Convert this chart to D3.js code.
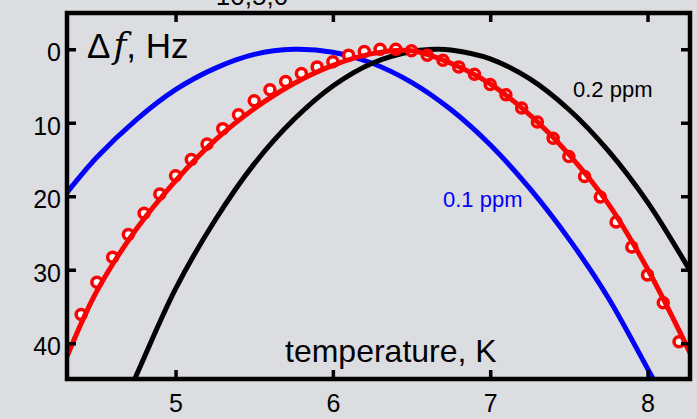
<!DOCTYPE html>
<html>
<head>
<meta charset="utf-8">
<script src="https://cdn.jsdelivr.net/npm/d3@7"></script>
<style>
body { margin: 0; background: #dcdde0; }
svg { display: block; font-family: "Liberation Sans", Arial, sans-serif; }
.tick line { stroke: #000; stroke-width: 3.5; }
.tick text { font-size: 25px; fill: #000; }
</style>
</head>
<body>
<script>
var width = 697,
    height = 419;
var margin = {top: 13, right: 7, bottom: 40, left: 67};

// measured points (open circles)
var tempData = [4.4, 4.5, 4.6, 4.7, 4.8, 4.9, 5.0, 5.1, 5.2, 5.3, 5.4, 5.5, 5.6, 5.7, 5.8, 5.9, 6.0,
  6.1, 6.2, 6.3, 6.4, 6.5, 6.6, 6.7, 6.8, 6.9, 7.0, 7.1, 7.2, 7.3, 7.4, 7.5, 7.6, 7.7, 7.8,
  7.9, 8.0, 8.1, 8.2];
var dfData = [36.1, 31.7, 28.3, 25.2, 22.3, 19.7, 17.2, 15.0, 12.9, 10.8, 8.9, 7.0, 5.5, 4.4, 3.3,
  2.4, 1.7, 0.8, 0.3, 0.0, 0.0, 0.2, 0.8, 1.5, 2.4, 3.4, 4.8, 6.2, 8.0, 9.9, 12.1, 14.6, 17.3,
  20.1, 23.5, 26.9, 30.7, 34.5, 39.8];

// red fit curve
var fitT = [4.31, 4.5, 4.75, 5.0, 5.25, 5.5, 5.75, 6.0, 6.25, 6.5, 6.75, 7.0, 7.25, 7.5, 7.75, 8.0, 8.27];
var fitDf = [41.8, 32.9, 24.5, 17.9, 12.4, 8.1, 4.7, 2.2, 0.6, 0.2, 1.9, 4.7, 8.9, 14.3, 21.0, 29.9, 41.3];

// 0.1 ppm curve (blue)
var lowT = [4.31, 4.5, 4.75, 5.0, 5.25, 5.5, 5.75, 6.0, 6.25, 6.5, 6.75, 7.0, 7.25, 7.5, 7.75, 8.04, 8.12];
var lowDf = [19.5, 14.7, 9.6, 5.5, 2.6, 0.7, 0.0, 0.4, 1.9, 4.5, 8.2, 13.0, 18.9, 25.8, 33.8, 45.0, 48.0];

// 0.2 ppm curve (black)
var highT = [4.5, 4.75, 5.0, 5.25, 5.5, 5.75, 6.0, 6.25, 6.5, 6.66, 6.75, 7.0, 7.25, 7.5, 7.75, 8.0, 8.27, 8.35];
var highDf = [56.5, 44.4, 32.6, 23.3, 15.6, 9.6, 5.0, 1.9, 0.3, 0.0, 0.1, 1.3, 4.0, 8.2, 13.8, 20.8, 30.1, 33.0];

var xTicks = [5, 6, 7, 8];
var yTicks = [0, 10, 20, 30, 40];

var svg = d3.select("body").append("svg")
    .attr("width", width)
    .attr("height", height);

var x = d3.scaleLinear()
    .domain([4.31, 8.27])
    .range([margin.left, width - margin.right]);
var y = d3.scaleLinear()
    .domain([-5, 45])
    .range([12.5, 380]);

svg.append("clipPath")
    .attr("id", "plot")
  .append("rect")
    .attr("x", x.range()[0])
    .attr("y", margin.top)
    .attr("width", x.range()[1] - x.range()[0])
    .attr("height", height - margin.bottom - margin.top);

function zip(ts, vs) {
  return ts.map(function(t, i) { return [t, vs[i]]; });
}

var line = d3.line()
    .x(function(d) { return x(d[0]); })
    .y(function(d) { return y(d[1]); })
    .curve(d3.curveCatmullRom);

var plot = svg.append("g").attr("clip-path", "url(#plot)");

plot.append("path")
    .datum(zip(lowT, lowDf))
    .attr("fill", "none")
    .attr("stroke", "#0000ff")
    .attr("stroke-width", 5)
    .attr("d", line);

plot.append("path")
    .datum(zip(highT, highDf))
    .attr("fill", "none")
    .attr("stroke", "#000")
    .attr("stroke-width", 5)
    .attr("d", line);

plot.selectAll("circle")
    .data(zip(tempData, dfData))
  .enter().append("circle")
    .attr("cx", function(d) { return x(d[0]); })
    .attr("cy", function(d) { return y(d[1]); })
    .attr("r", 5)
    .attr("fill", "#fff")
    .attr("stroke", "#ff0000")
    .attr("stroke-width", 3.5);

plot.append("path")
    .datum(zip(fitT, fitDf))
    .attr("fill", "none")
    .attr("stroke", "#ff0000")
    .attr("stroke-width", 5)
    .attr("d", line);

// axes, ticks pointing inward
var bottom = height - margin.bottom;
svg.append("g")
    .attr("transform", "translate(0," + bottom + ")")
    .call(d3.axisBottom(x).tickValues(xTicks).tickSize(-9).tickPadding(15).tickFormat(d3.format("d")));
svg.append("g")
    .attr("transform", "translate(0," + margin.top + ")")
    .call(d3.axisTop(x).tickValues(xTicks).tickSize(-9).tickFormat(""));
var yAxis = svg.append("g")
    .attr("transform", "translate(" + margin.left + ",0)")
    .call(d3.axisLeft(y).tickValues(yTicks).tickSize(-9).tickPadding(6));
yAxis.selectAll("text").attr("dy", "0.45em");
svg.append("g")
    .attr("transform", "translate(" + (width - margin.right) + ",0)")
    .call(d3.axisRight(y).tickValues(yTicks).tickSize(-9).tickFormat(""));
svg.selectAll(".domain").remove();

svg.append("rect")
    .attr("x", margin.left)
    .attr("y", margin.top)
    .attr("width", width - margin.right - margin.left)
    .attr("height", bottom - margin.top)
    .attr("fill", "none")
    .attr("stroke", "#000")
    .attr("stroke-width", 4.5);

// labels
var ylab = svg.append("text")
    .attr("x", 87)
    .attr("y", 58)
    .attr("font-size", 35);
ylab.append("tspan").text("Δ");
ylab.append("tspan").attr("dx", 3).attr("font-style", "italic").attr("font-family", "DejaVu Serif").text("f");
ylab.append("tspan").text(", Hz");

svg.append("text")
    .attr("x", 285)
    .attr("y", 362)
    .attr("font-size", 32)
    .text("temperature, K");

svg.append("text")
    .attr("x", 573)
    .attr("y", 97)
    .attr("font-size", 22)
    .text("0.2 ppm");

svg.append("text")
    .attr("x", 443)
    .attr("y", 207)
    .attr("font-size", 22)
    .attr("fill", "#0000ff")
    .text("0.1 ppm");

svg.append("text")
    .attr("x", 252)
    .attr("y", 5)
    .attr("text-anchor", "middle")
    .attr("font-size", 26)
    .text("10,5,0");
</script>
</body>
</html>
